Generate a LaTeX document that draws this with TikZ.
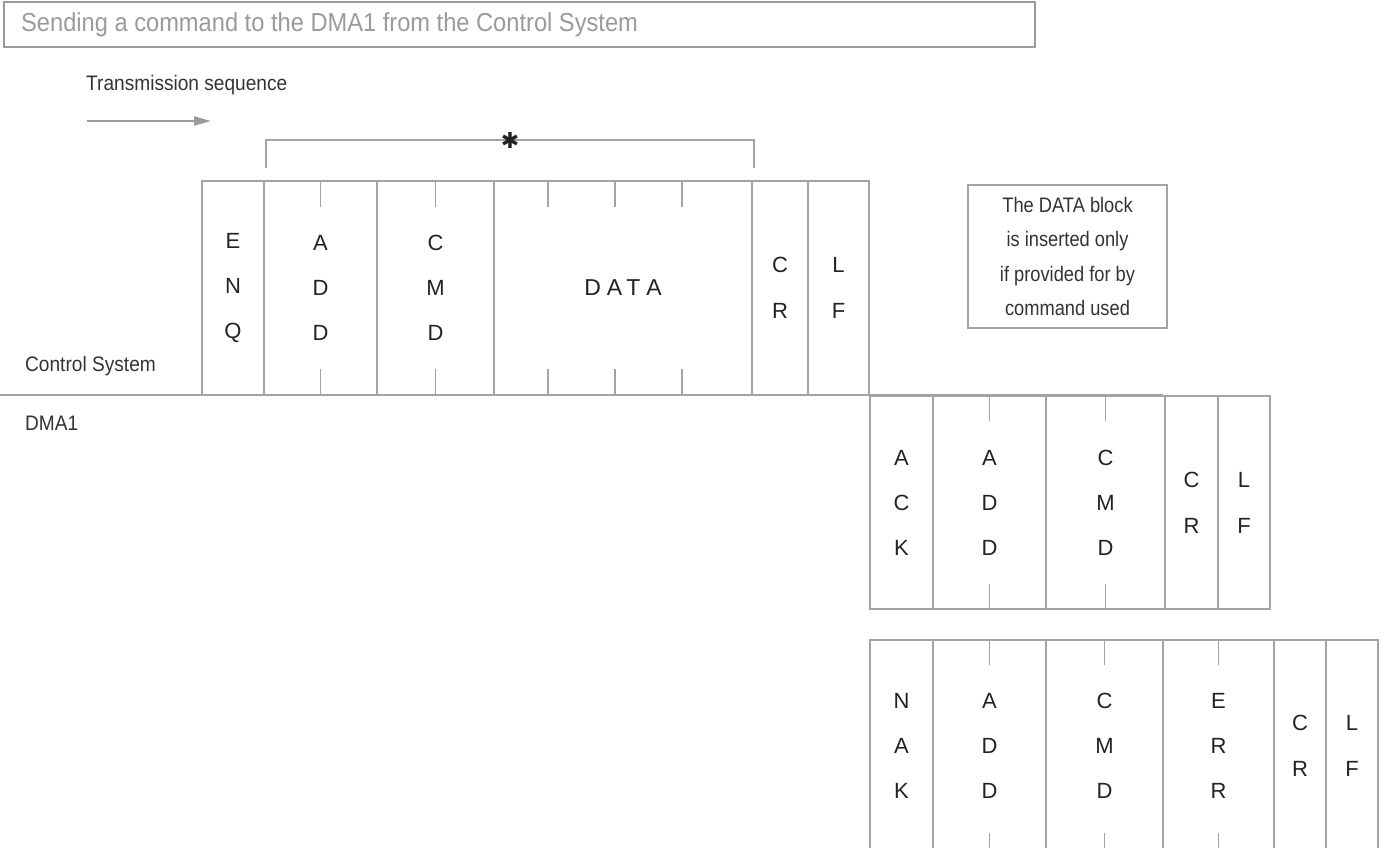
\documentclass[tikz,border=0pt]{standalone}
\usepackage{fontspec}
\setmainfont{Liberation Sans}
\newfontfamily\cond{Liberation Sans}[FakeStretch=0.91]
\newfontfamily\condn{Liberation Sans}[FakeStretch=0.87]
\newfontfamily\symb{DejaVu Sans}
\usetikzlibrary{arrows.meta}
\definecolor{ln}{HTML}{A3A3A3}
\definecolor{tx}{HTML}{222222}
\definecolor{lb}{HTML}{333333}
\definecolor{tt}{HTML}{9A9A9A}
\begin{document}
\begin{tikzpicture}[x=1pt,y=-1pt,
  cell/.style={draw=ln, line width=1.3pt, inner sep=0pt, minimum height=214pt,
    align=center, font=\fontsize{22}{45}\selectfont, text=tx},
  twoline/.style={font=\fontsize{22}{46}\selectfont},
  tick/.style={draw=ln, line width=1.3pt},
  frame/.style={draw=ln, line width=1.3pt},
  lbl/.style={font=\cond\fontsize{21}{25}\selectfont, text=lb, inner sep=0pt},
]
\useasboundingbox (0,0) rectangle (1386,848);

% title
\node[draw=tt, line width=1.3pt, minimum width=1031pt, minimum height=45pt, inner sep=0pt] (titlebox) at (519.5,24.5) {};
\node[anchor=west, font=\cond\fontsize{26}{30}\selectfont, text=tt, inner sep=0pt] (title) at (21,25) {Sending a command to the DMA1 from the Control System};

% transmission sequence
\node[lbl, anchor=west] (trans) at (86,85) {Transmission sequence};
\coordinate (a1) at (87,121);
\coordinate (a2) at (211,121);
\draw[draw=tt, line width=2.2pt, -{Triangle[length=17pt,width=9pt]}] (a1) -- (a2);

% control system frame
\node[cell, minimum width=62pt] (enq) at (233,288) {E\\N\\Q};
\node[cell, minimum width=113pt] (add) at (320.5,288) {A\\D\\D};
\node[cell, minimum width=117pt] (cmd) at (435.5,288) {C\\M\\D};
\node[cell, minimum width=258pt, font=\fontsize{23}{25}\selectfont] (data) at (623,288) {D\kern6ptA\kern4ptT\kern6ptA};
\node[cell, twoline, minimum width=56pt] (cr) at (780,288) {C\\R};
\node[cell, twoline, minimum width=61pt] (lf) at (838.5,288) {L\\F};

\foreach \n in {add,cmd}{
  \draw[tick] (\n.north) -- ++(0,27);
  \draw[tick] (\n.south) -- ++(0,-27);
}
\foreach \dx in {-75,-8,59}{
  \draw[tick] ([xshift=\dx pt]data.north) -- ++(0,27);
  \draw[tick] ([xshift=\dx pt]data.south) -- ++(0,-27);
}

% bracket
\coordinate (bl) at (266,168);
\coordinate (br) at (754,168);
\draw[frame] (bl) -- ++(0,-28) -| (br);
\node[inner sep=0pt, font=\symb\fontsize{22}{22}\selectfont, text=tx] (ast) at (510,140) {✱};

% separator
\node[lbl, anchor=west] (cs) at (25,366) {Control System};
\node[lbl, anchor=west] (dma) at (25,423) {DMA1};
\coordinate (sepL) at (0,395);
\coordinate (sepR) at (1163,395);
\draw[frame] (sepL) -- (sepR);

% note
\node[draw=ln, line width=1.3pt, minimum width=199pt, minimum height=143pt, inner sep=0pt,
  align=center, font=\condn\fontsize{21}{34.5}\selectfont, text=lb] (note) at (1067.5,256.5)
  {The DATA block\\is inserted only\\if provided for by\\command used};

% ACK frame
\node[cell, minimum width=63pt, minimum height=213pt] (ack) at (901.5,502.5) {A\\C\\K};
\node[cell, minimum width=113pt, minimum height=213pt] (add2) at (989.5,502.5) {A\\D\\D};
\node[cell, minimum width=119pt, minimum height=213pt] (cmd2) at (1105.5,502.5) {C\\M\\D};
\node[cell, twoline, minimum width=53pt, minimum height=213pt] (cr2) at (1191.5,502.5) {C\\R};
\node[cell, twoline, minimum width=52pt, minimum height=213pt] (lf2) at (1244,502.5) {L\\F};
\foreach \n in {add2,cmd2}{
  \draw[tick] (\n.north) -- ++(0,26);
  \draw[tick] (\n.south) -- ++(0,-26);
}

% NAK frame
\node[cell, minimum width=63pt, minimum height=212pt] (nak) at (901.5,746) {N\\A\\K};
\node[cell, minimum width=113pt, minimum height=212pt] (add3) at (989.5,746) {A\\D\\D};
\node[cell, minimum width=117pt, minimum height=212pt] (cmd3) at (1104.5,746) {C\\M\\D};
\node[cell, minimum width=111pt, minimum height=212pt] (err) at (1218.5,746) {E\\R\\R};
\node[cell, twoline, minimum width=52pt, minimum height=212pt] (cr3) at (1300,746) {C\\R};
\node[cell, twoline, minimum width=52pt, minimum height=212pt] (lf3) at (1352,746) {L\\F};
\foreach \n in {add3,cmd3,err}{
  \draw[tick] (\n.north) -- ++(0,26);
  \draw[tick] (\n.south) -- ++(0,-20);
}
\end{tikzpicture}
\end{document}
